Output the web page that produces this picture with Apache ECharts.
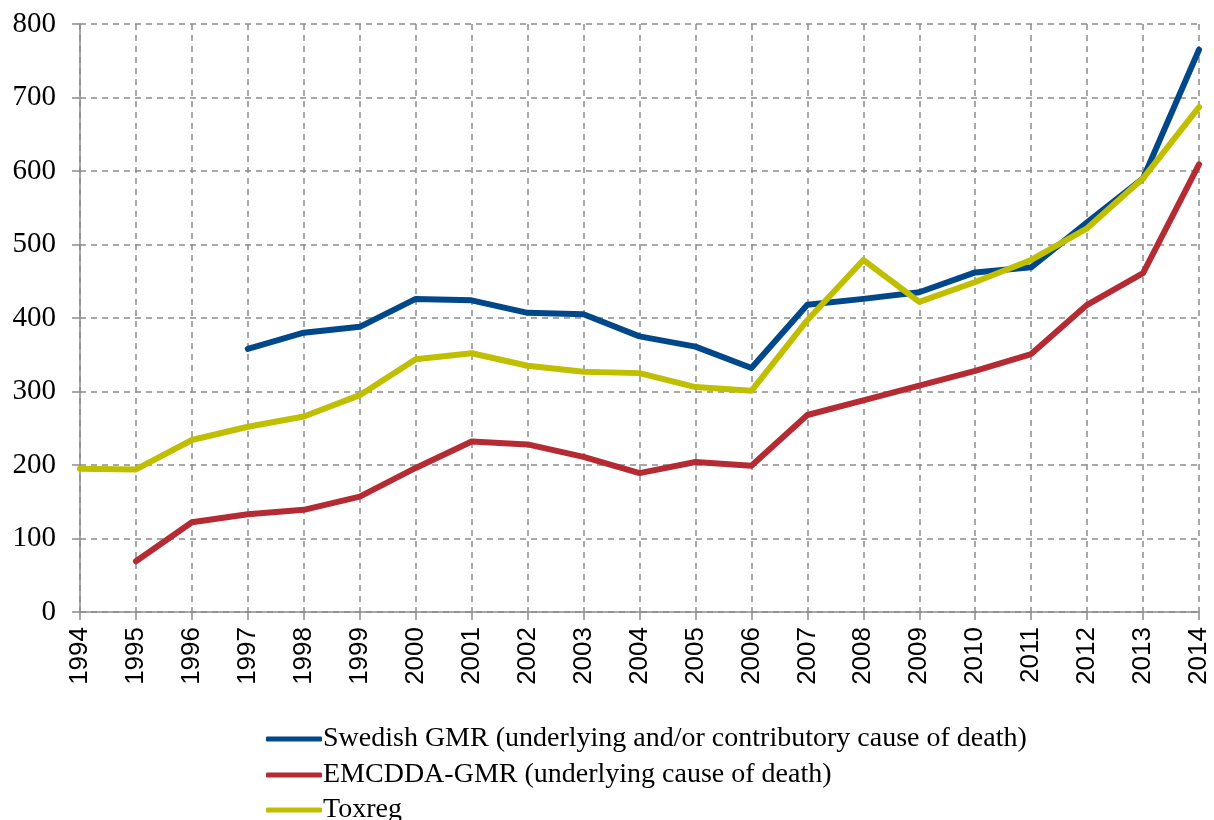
<!DOCTYPE html>
<html>
<head>
<meta charset="utf-8">
<script src="https://cdn.jsdelivr.net/npm/echarts@6/dist/echarts.min.js"></script>
<style>
  html, body { margin: 0; padding: 0; background: #fff; }
  #chart { width: 1214px; height: 820px; }
</style>
</head>
<body>
<div id="chart"></div>
<script>
const years = ['1994', '1995', '1996', '1997', '1998', '1999', '2000', '2001', '2002', '2003', '2004',
  '2005', '2006', '2007', '2008', '2009', '2010', '2011', '2012', '2013', '2014']

// Swedish GMR, from 1997
const swedishGmr = [null, null, null, 358, 380, 388, 426, 424, 407, 405, 375,
  361, 332, 418, 426, 435, 462, 469, 530, 590, 765]
// EMCDDA-GMR, from 1995
const emcddaGmr = [null, 69, 122, 133, 139, 157, 196, 232, 228, 211, 189,
  204, 199, 268, 288, 308, 328, 351, 418, 461, 609]
const toxreg = [195, 194, 234, 252, 266, 295, 344, 352, 335, 327, 325,
  306, 301, 397, 479, 422, 449, 479, 522, 590, 687]

const seriesNames = [
  'Swedish GMR (underlying and/or contributory cause of death)',
  'EMCDDA-GMR (underlying cause of death)',
  'Toxreg'
]
const colors = ['#00488a', '#b52b33', '#bfbf00']

const chart = echarts.init(document.getElementById('chart'))

const gridLine = { show: true, lineStyle: { color: '#8c8c8c', width: 1.5, type: [6, 5] } }

const mkLine = (name, data, color) => ({
  name,
  type: 'line',
  data,
  showSymbol: false,
  symbol: 'none',
  connectNulls: false,
  lineStyle: { color, width: 6, cap: 'round', join: 'round' },
  itemStyle: { color },
  emphasis: { disabled: true }
})

// one legend per row so the stacked list never wraps into a second column
const mkLegend = (name, top) => ({
  orient: 'vertical',
  left: 266,
  top,
  padding: 0,
  itemWidth: 56,
  itemHeight: 5,
  icon: 'roundRect',
  data: [name],
  textStyle: {
    fontFamily: 'Liberation Serif',
    fontSize: 28,
    color: '#000',
    padding: [0, 0, 0, -4]
  }
})

chart.setOption({
  animation: false,
  color: colors,
  grid: { left: 80, right: 15, top: 24, bottom: 208, containLabel: false },
  legend: [
    mkLegend(seriesNames[0], 725),
    mkLegend(seriesNames[1], 761),
    mkLegend(seriesNames[2], 796)
  ],
  xAxis: {
    type: 'category',
    data: years,
    boundaryGap: false,
    axisLine: { lineStyle: { color: '#8c8c8c', width: 1.5 } },
    axisTick: { show: true, interval: 0, length: 8, lineStyle: { color: '#8c8c8c', width: 1.5 } },
    axisLabel: {
      interval: 0,
      rotate: 90,
      margin: 15,
      color: '#000',
      fontFamily: 'Liberation Sans',
      fontSize: 26
    },
    splitLine: { ...gridLine, interval: 0 }
  },
  yAxis: {
    type: 'value',
    min: 0,
    max: 800,
    interval: 100,
    axisLine: { show: true, lineStyle: { color: '#8c8c8c', width: 1.5 } },
    axisTick: { show: true, length: 8, lineStyle: { color: '#8c8c8c', width: 1.5 } },
    axisLabel: {
      margin: 24,
      color: '#000',
      fontFamily: 'Liberation Serif',
      fontSize: 29
    },
    splitLine: gridLine
  },
  series: [
    mkLine(seriesNames[0], swedishGmr, colors[0]),
    mkLine(seriesNames[1], emcddaGmr, colors[1]),
    mkLine(seriesNames[2], toxreg, colors[2])
  ]
})
</script>
</body>
</html>
